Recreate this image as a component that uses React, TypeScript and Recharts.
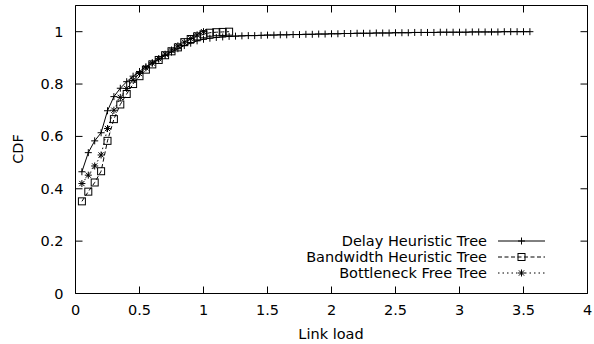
import { LineChart, Line, XAxis, YAxis, ReferenceArea } from "recharts";

// link load sampled every 0.05
const loadX = [
  0.05, 0.1, 0.15, 0.2, 0.25, 0.3, 0.35, 0.4, 0.45, 0.5,
  0.55, 0.6, 0.65, 0.7, 0.75, 0.8, 0.85, 0.9, 0.95, 1.0,
  1.05, 1.1, 1.15, 1.2, 1.25, 1.3, 1.35, 1.4, 1.45, 1.5,
  1.55, 1.6, 1.65, 1.7, 1.75, 1.8, 1.85, 1.9, 1.95, 2.0,
  2.05, 2.1, 2.15, 2.2, 2.25, 2.3, 2.35, 2.4, 2.45, 2.5,
  2.55, 2.6, 2.65, 2.7, 2.75, 2.8, 2.85, 2.9, 2.95, 3.0,
  3.05, 3.1, 3.15, 3.2, 3.25, 3.3, 3.35, 3.4, 3.45, 3.5, 3.55,
];

const delayCdf = [
  0.465, 0.538, 0.583, 0.614, 0.698, 0.752, 0.784, 0.809, 0.83, 0.848,
  0.866, 0.881, 0.895, 0.909, 0.922, 0.935, 0.947, 0.956, 0.965, 0.971,
  0.975, 0.978, 0.98, 0.982, 0.983, 0.984, 0.985, 0.985, 0.986, 0.987,
  0.987, 0.988, 0.988, 0.989, 0.989, 0.99, 0.99, 0.991, 0.991, 0.992,
  0.992, 0.993, 0.993, 0.994, 0.994, 0.994, 0.995, 0.995, 0.995, 0.996,
  0.996, 0.996, 0.997, 0.997, 0.997, 0.997, 0.998, 0.998, 0.998, 0.998,
  0.998, 0.999, 0.999, 0.999, 0.999, 0.999, 1.0, 1.0, 1.0, 1.0, 1.0,
];

const bandwidthCdf = [
  0.352, 0.389, 0.424, 0.467, 0.583, 0.666, 0.722, 0.762, 0.8, 0.83,
  0.855, 0.875, 0.892, 0.91, 0.925, 0.94, 0.96, 0.972, 0.982, 0.99,
  0.996, 0.998, 0.999, 1.0,
];

const bottleneckCdf = [
  0.42, 0.452, 0.487, 0.529, 0.63, 0.7, 0.749, 0.783, 0.815, 0.84,
  0.862, 0.88, 0.897, 0.914, 0.93, 0.946, 0.96, 0.974, 0.988, 1.0,
];

const xTicks = [0, 0.5, 1, 1.5, 2, 2.5, 3, 3.5, 4];
const yTicks = [0, 0.2, 0.4, 0.6, 0.8, 1];

const seriesNames = ["Delay Heuristic Tree", "Bandwidth Heuristic Tree", "Bottleneck Free Tree"];

const toPoints = (ys: number[]) => ys.map((y, i) => ({ x: loadX[i], y }));

const W = 594;
const H = 344;
const LEFT = 75.5;
const TOP = 5.5;
const RIGHT = 587.5;
const BOTTOM = 293.5;
const TICK = 7;
const FONT = "DejaVu Sans";
const FS = 14.5;
const INK = "#000";

function Marker({ kind, cx, cy }: { kind: string; cx: number; cy: number }) {
  const r = 3.5;
  if (kind === "plus")
    return (
      <g stroke={INK} strokeWidth={1}>
        <line x1={cx - r} y1={cy} x2={cx + r} y2={cy} />
        <line x1={cx} y1={cy - r} x2={cx} y2={cy + r} />
      </g>
    );
  if (kind === "square")
    return <rect x={cx - r} y={cy - r} width={2 * r} height={2 * r} fill="none" stroke={INK} strokeWidth={1} />;
  const d = r * 0.75;
  return (
    <g stroke={INK} strokeWidth={1}>
      <line x1={cx - r} y1={cy} x2={cx + r} y2={cy} />
      <line x1={cx} y1={cy - r} x2={cx} y2={cy + r} />
      <line x1={cx - d} y1={cy - d} x2={cx + d} y2={cy + d} />
      <line x1={cx - d} y1={cy + d} x2={cx + d} y2={cy - d} />
    </g>
  );
}

const dotFor = (kind: string) => (p: any) =>
  <g key={`${kind}-${p.index}`}><Marker kind={kind} cx={p.cx} cy={p.cy} /></g>;

const XTick = (p: any) => (
  <g>
    <line x1={p.x} y1={BOTTOM} x2={p.x} y2={BOTTOM - TICK} stroke={INK} />
    <line x1={p.x} y1={TOP} x2={p.x} y2={TOP + TICK} stroke={INK} />
    <text x={p.x} y={315} textAnchor="middle" fontFamily={FONT} fontSize={FS} fill={INK}>
      {p.payload.value}
    </text>
  </g>
);

const YTick = (p: any) => (
  <g>
    <line x1={LEFT} y1={p.y} x2={LEFT + TICK} y2={p.y} stroke={INK} />
    <line x1={RIGHT} y1={p.y} x2={RIGHT - TICK} y2={p.y} stroke={INK} />
    <text x={63.5} y={p.y + 5} textAnchor="end" fontFamily={FONT} fontSize={FS} fill={INK}>
      {p.payload.value}
    </text>
  </g>
);

const legendRows = [
  { name: seriesNames[0], kind: "plus", dash: undefined },
  { name: seriesNames[1], kind: "square", dash: "4 2.5" },
  { name: seriesNames[2], kind: "star", dash: "1.5 3" },
];

export default function App() {
  return (
    <div style={{ position: "absolute", left: 0, top: 0, width: W, height: H }}>
      <LineChart width={W} height={H} margin={{ top: TOP, right: W - RIGHT, left: 0, bottom: 0 }}>
        <XAxis
          type="number"
          dataKey="x"
          domain={[0, 4]}
          ticks={xTicks}
          axisLine={false}
          tickLine={false}
          tickSize={0}
          height={H - BOTTOM}
          tick={<XTick />}
          interval={0}
        />
        <YAxis
          type="number"
          dataKey="y"
          domain={[0, 1.1]}
          ticks={yTicks}
          axisLine={false}
          tickLine={false}
          tickSize={0}
          width={LEFT}
          tick={<YTick />}
          interval={0}
        />
        <ReferenceArea x1={0} x2={4} y1={0} y2={1.1} fill="none" stroke={INK} strokeWidth={1} ifOverflow="visible" />
        <Line
          data={toPoints(bottleneckCdf)}
          dataKey="y"
          name={seriesNames[2]}
          stroke={INK}
          strokeWidth={1}
          strokeDasharray="1.5 3"
          dot={dotFor("star")}
          isAnimationActive={false}
        />
        <Line
          data={toPoints(bandwidthCdf)}
          dataKey="y"
          name={seriesNames[1]}
          stroke={INK}
          strokeWidth={1}
          strokeDasharray="4 2.5"
          dot={dotFor("square")}
          isAnimationActive={false}
        />
        <Line
          data={toPoints(delayCdf)}
          dataKey="y"
          name={seriesNames[0]}
          stroke={INK}
          strokeWidth={1}
          dot={dotFor("plus")}
          isAnimationActive={false}
        />
      </LineChart>
      <svg width={W} height={H} style={{ position: "absolute", left: 0, top: 0, pointerEvents: "none" }}>
        <text
          transform="translate(23,149) rotate(-90)"
          textAnchor="middle"
          fontFamily={FONT}
          fontSize={FS}
          fill={INK}
        >
          CDF
        </text>
        <text x={331} y={339} textAnchor="middle" fontFamily={FONT} fontSize={FS} fill={INK}>
          Link load
        </text>
        {legendRows.map((r, i) => {
          const y = 241 + i * 16;
          return (
            <g key={r.name}>
              <text x={487} y={y + 5} textAnchor="end" fontFamily={FONT} fontSize={FS} fill={INK}>
                {r.name}
              </text>
              <line x1={498} y1={y} x2={545} y2={y} stroke={INK} strokeWidth={1} strokeDasharray={r.dash} />
              <Marker kind={r.kind} cx={521.5} cy={y} />
            </g>
          );
        })}
      </svg>
    </div>
  );
}
